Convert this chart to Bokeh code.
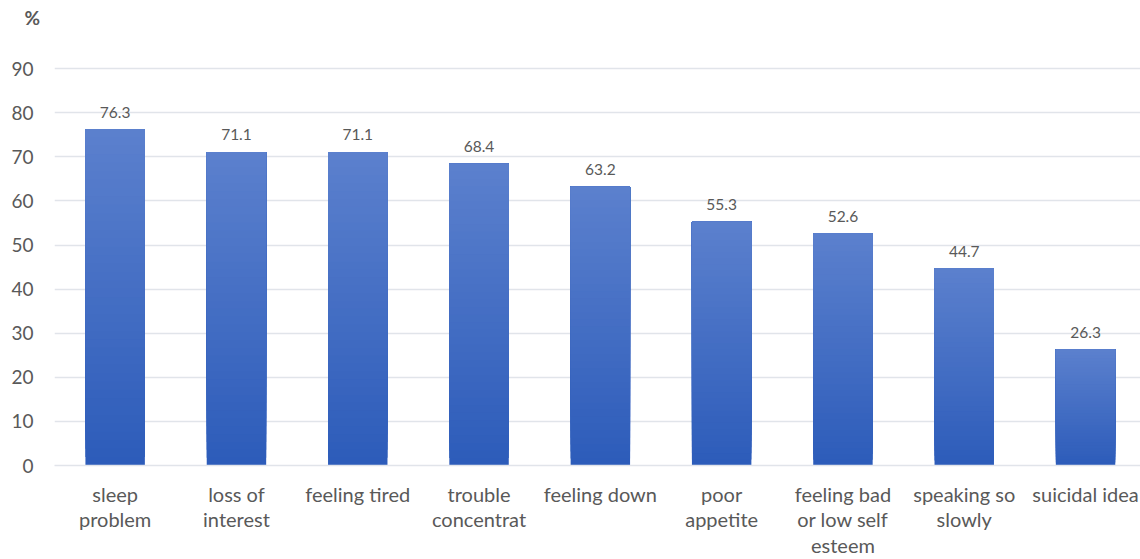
from bokeh.plotting import figure
from bokeh.models import Range1d, FixedTicker, ColumnDataSource
from bokeh.core.properties import value
from bokeh.embed import file_html
from bokeh.resources import INLINE

categories = ["sleep\nproblem", "loss of\ninterest", "feeling tired", "trouble\nconcentrat",
              "feeling down", "poor\nappetite", "feeling bad\nor low self\nesteem",
              "speaking so\nslowly", "suicidal idea"]
values = [76.3, 71.1, 71.1, 68.4, 63.2, 55.3, 52.6, 44.7, 26.3]
y_ticks = [0, 10, 20, 30, 40, 50, 60, 70, 80, 90]

FONT = "Lato"
TXT = "#595959"
top_rgb = (92, 129, 206)
bot_rgb = (45, 92, 186)

n = len(categories)
xs = list(range(n))

p = figure(width=1140, height=559, output_backend="svg", toolbar_location=None,
           x_range=Range1d(-0.5, 8.453), y_range=Range1d(0, 100),
           min_border_left=54, min_border_right=0, min_border_top=24, min_border_bottom=94,
           title="%")
p.frame_width = 1086
p.frame_height = 441
p.outline_line_color = None
p.background_fill_color = "white"
p.border_fill_color = "white"

p.title.align = "left"
p.title.offset = -30
p.title.text_font = FONT
p.title.text_font_size = "19px"
p.title.text_font_style = "bold"
p.title.text_color = TXT
p.title.standoff = -8

# gradient bars made of overlapping strips (each strip reaches the bar top)
N = 40
sx, sb, st, sc = [], [], [], []
for i, v in zip(xs, values):
    for k in range(N):
        f0 = k / N
        fm = (k + 0.5) / N
        r = int(bot_rgb[0] + (top_rgb[0] - bot_rgb[0]) * fm)
        g = int(bot_rgb[1] + (top_rgb[1] - bot_rgb[1]) * fm)
        b = int(bot_rgb[2] + (top_rgb[2] - bot_rgb[2]) * fm)
        sx.append(i)
        sb.append(v * f0)
        st.append(v)
        sc.append("#%02x%02x%02x" % (r, g, b))
p.vbar(x=sx, bottom=sb, top=st, width=0.49, fill_color=sc, line_color=None)

src = ColumnDataSource(dict(x=xs, y=values, t=["%.1f" % v for v in values]))
p.text(x="x", y="y", text="t", source=src, text_align="center", text_baseline="alphabetic",
       y_offset=-17, text_font=value(FONT), text_font_size="15.5px", text_color=TXT)

p.xgrid.visible = False
p.ygrid.ticker = FixedTicker(ticks=y_ticks)
p.ygrid.grid_line_color = "#e1e4ea"
p.ygrid.grid_line_width = 1.5

p.yaxis.ticker = FixedTicker(ticks=y_ticks)
p.yaxis.axis_line_color = None
p.yaxis.major_tick_line_color = None
p.yaxis.minor_tick_line_color = None
p.yaxis.major_label_text_font = FONT
p.yaxis.major_label_text_font_size = "19px"
p.yaxis.major_label_text_color = TXT
p.yaxis.major_label_standoff = 15

p.xaxis.ticker = FixedTicker(ticks=xs)
p.xaxis.major_label_overrides = {i: c for i, c in zip(xs, categories)}
p.xaxis.axis_line_color = "#e1e4ea"
p.xaxis.axis_line_width = 1.5
p.xaxis.major_tick_line_color = None
p.xaxis.minor_tick_line_color = None
p.xaxis.major_label_text_font = FONT
p.xaxis.major_label_text_font_size = "20px"
p.xaxis.major_label_text_line_height = 1.08
p.xaxis.major_label_text_color = TXT
p.xaxis.major_label_standoff = 10

open("out.html", "w").write(file_html(p, INLINE))
